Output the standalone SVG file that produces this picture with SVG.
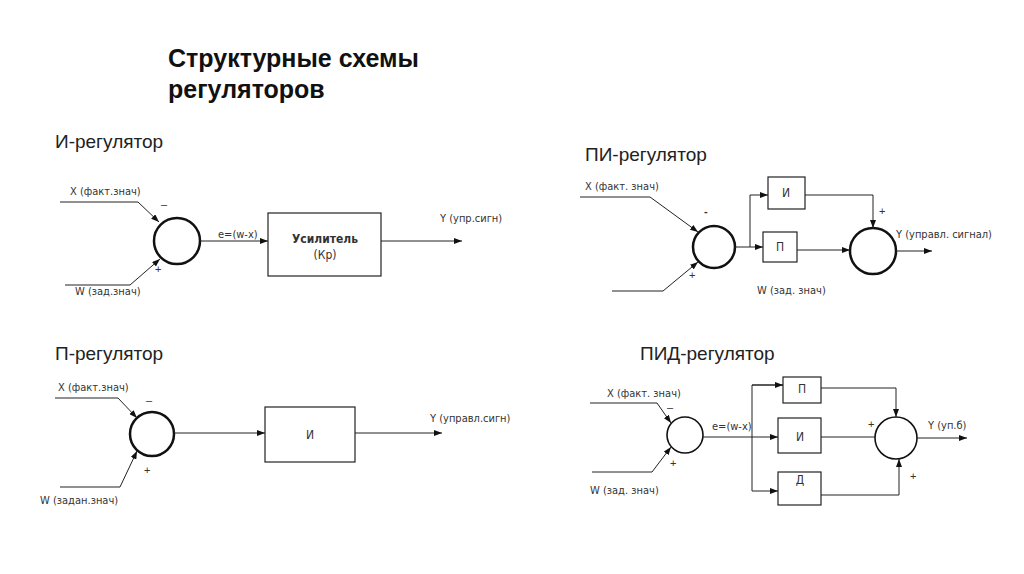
<svg xmlns="http://www.w3.org/2000/svg" width="1024" height="574" viewBox="0 0 1024 574">
<defs>
<marker id="arr" markerWidth="8" markerHeight="6" refX="8" refY="3" orient="auto" markerUnits="userSpaceOnUse"><path d="M0,0 L8,3 L0,6 Z" fill="#111"/></marker>
<style>
.ln{fill:none;stroke:#222;stroke-width:1}
.sum{fill:#fff;stroke:#111;stroke-width:2.5}
.sum2{fill:#fff;stroke:#111;stroke-width:1.6}
.box{fill:#fff;stroke:#222;stroke-width:1.2}
.title{font-family:"Liberation Sans",Arial,sans-serif;font-weight:bold;font-size:25px;fill:#111}
.head{font-family:"Liberation Sans",Arial,sans-serif;font-size:19px;fill:#222}
.lbl{font-family:"Liberation Sans Narrow","DejaVu Sans Condensed","Liberation Sans",sans-serif;font-size:11px;fill:#333}
.sg{font-family:"Liberation Sans",Arial,sans-serif;font-size:11px;fill:#333}
.bt{font-family:"Liberation Sans Narrow","DejaVu Sans Condensed","Liberation Sans",sans-serif;font-size:12px;fill:#333;text-anchor:middle}
</style>
</defs>
<rect width="1024" height="574" fill="#fff"/>
<text class="title" x="168" y="67">Структурные схемы</text>
<text class="title" x="168" y="98">регуляторов</text>
<text class="head" x="55" y="148">И-регулятор</text>
<text class="head" x="585" y="161">ПИ-регулятор</text>
<text class="head" x="55" y="360">П-регулятор</text>
<text class="head" x="640" y="360">ПИД-регулятор</text>

<!-- Diagram 1: И-регулятор -->
<g id="d1-sum"><circle class="sum" cx="177" cy="241" r="23"/></g>
<g id="d1-box"><rect class="box" x="268" y="213" width="113" height="63" stroke-width="1.5"/>
<text class="bt" x="325" y="243" font-weight="bold">Усилитель</text><text class="bt" x="325" y="259">(Кр)</text></g>
<g id="d1-labels">
<text class="lbl" x="70" y="195">X (факт.знач)</text>
<text class="lbl" x="75" y="295">W (зад.знач)</text>
<text class="lbl" x="218" y="238">e=(w-x)</text>
<text class="lbl" x="440" y="222">Y (упр.сигн)</text>
<text class="sg" x="161" y="208">–</text>
<text class="sg" x="155" y="273" font-size="9">+</text>
</g>
<g id="d1-connectors">
<polyline class="ln" points="60,202 138,202 159,222" marker-end="url(#arr)"/>
<polyline class="ln" points="65,285 130,285 160,259" marker-end="url(#arr)"/>
<line class="ln" x1="200" y1="241" x2="268" y2="241" marker-end="url(#arr)"/>
<line class="ln" x1="381" y1="241" x2="462" y2="241" marker-end="url(#arr)"/>
</g>

<!-- Diagram 2: ПИ-регулятор -->
<g id="d2-sum1"><circle class="sum" cx="714" cy="247" r="21"/></g>
<g id="d2-boxI"><rect class="box" x="768" y="177" width="37" height="32" stroke="#444" stroke-width="1"/><text class="bt" x="786" y="197">И</text></g>
<g id="d2-boxP"><rect class="box" x="763" y="232" width="34" height="30" stroke="#444" stroke-width="1"/><text class="bt" x="780" y="251">П</text></g>
<g id="d2-sum2"><circle class="sum" cx="873" cy="251" r="23"/></g>
<g id="d2-labels">
<text class="lbl" x="585" y="190">X (факт. знач)</text>
<text class="lbl" x="757" y="294">W (зад. знач)</text>
<text class="lbl" x="896" y="238" font-size="10">Y (управл. сигнал)</text>
<text class="sg" x="704" y="215" font-weight="bold">-</text>
<text class="sg" x="689" y="279">+</text>
<text class="sg" x="879" y="215">+</text>
</g>
<g id="d2-connectors">
<polyline class="ln" points="580,197 650,197 698,232" marker-end="url(#arr)"/>
<polyline class="ln" points="612,291 663,291 698,262" marker-end="url(#arr)"/>
<line class="ln" x1="735" y1="247" x2="763" y2="247" marker-end="url(#arr)"/>
<polyline class="ln" points="750,247 750,195 768,195" marker-end="url(#arr)"/>
<polyline class="ln" points="805,195 873,195 873,228" marker-end="url(#arr)"/>
<line class="ln" x1="797" y1="250" x2="850" y2="250" marker-end="url(#arr)"/>
<line class="ln" x1="896" y1="251" x2="932" y2="251" marker-end="url(#arr)"/>
</g>

<!-- Diagram 3: П-регулятор -->
<g id="d3-sum"><circle class="sum" cx="152" cy="434" r="22"/></g>
<g id="d3-box"><rect class="box" x="265" y="407" width="90" height="55"/><text class="bt" x="310" y="439">И</text></g>
<g id="d3-labels">
<text class="lbl" x="58" y="391">X (факт.знач)</text>
<text class="lbl" x="40" y="504">W (задан.знач)</text>
<text class="lbl" x="430" y="422">Y (управл.сигн)</text>
<text class="sg" x="146" y="404" font-size="9">–</text>
<text class="sg" x="144" y="474" font-size="9">+</text>
</g>
<g id="d3-connectors">
<polyline class="ln" points="55,398 118,398 137,418" marker-end="url(#arr)"/>
<polyline class="ln" points="60,487 120,487 137,451" marker-end="url(#arr)"/>
<line class="ln" x1="174" y1="433" x2="265" y2="433" marker-end="url(#arr)"/>
<line class="ln" x1="355" y1="433" x2="442" y2="433" marker-end="url(#arr)"/>
</g>

<!-- Diagram 4: ПИД-регулятор -->
<g id="d4-sum1"><circle class="sum2" cx="685" cy="435" r="18"/></g>
<g id="d4-boxP"><rect class="box" x="783" y="377" width="38" height="26" stroke-width="1.5"/><text class="bt" x="802" y="393" font-size="10">П</text></g>
<g id="d4-boxI"><rect class="box" x="778" y="418" width="43" height="35" stroke-width="1.5"/><text class="bt" x="800" y="441" font-size="10">И</text></g>
<g id="d4-boxD"><rect class="box" x="778" y="472" width="43" height="33" stroke-width="1.5"/><text class="bt" x="800" y="484" font-size="10">Д</text></g>
<g id="d4-sum2"><circle class="sum2" cx="896" cy="438" r="21"/></g>
<g id="d4-labels">
<text class="lbl" x="607" y="397" font-size="10">X (факт. знач)</text>
<text class="lbl" x="590" y="494">W (зад. знач)</text>
<text class="lbl" x="712" y="430" font-size="10">e=(w-x)</text>
<text class="lbl" x="928" y="429" font-size="10">Y (уп.б)</text>
<text class="sg" x="667" y="411" font-size="9">–</text>
<text class="sg" x="670" y="467" font-size="9">+</text>
<text class="sg" x="868" y="428" font-size="10">+</text>
<text class="sg" x="910" y="480" font-size="10">+</text>
</g>
<g id="d4-connectors">
<polyline class="ln" points="590,403 657,403 671,423" marker-end="url(#arr)"/>
<polyline class="ln" points="592,472 652,472 671,447" marker-end="url(#arr)"/>
<line class="ln" x1="703" y1="437" x2="778" y2="437" marker-end="url(#arr)"/>
<polyline class="ln" points="783,385 752,385 752,491 778,491" marker-end="url(#arr)"/>
<line class="ln" x1="752" y1="385" x2="783" y2="385" marker-end="url(#arr)"/>
<polyline class="ln" points="821,388 896,388 896,417" marker-end="url(#arr)"/>
<line class="ln" x1="821" y1="437" x2="875" y2="437"/>
<polyline class="ln" points="821,495 899,495 899,459" marker-end="url(#arr)"/>
<line class="ln" x1="917" y1="438" x2="967" y2="438" marker-end="url(#arr)"/>
</g>
</svg>
